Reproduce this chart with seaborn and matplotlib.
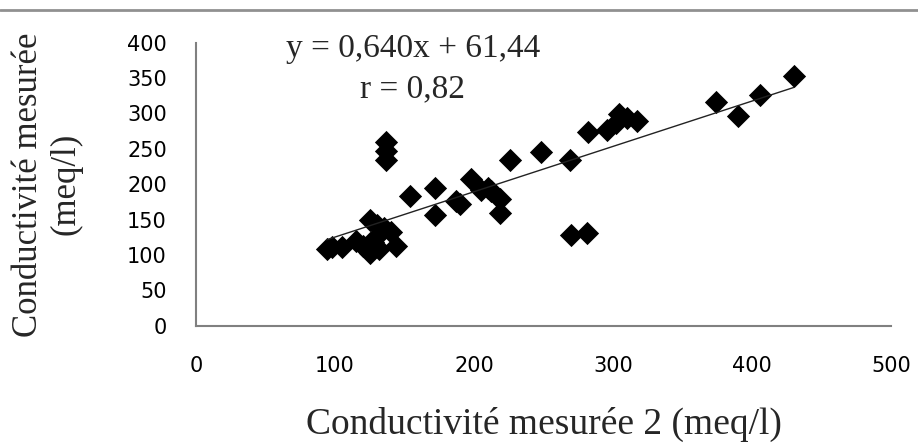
import numpy as np
import pandas as pd
import seaborn as sns
import matplotlib.pyplot as plt
from matplotlib.lines import Line2D

# Data.
cond_2 = [94, 98, 105, 115, 120, 125, 132, 144,
          125, 130, 135, 140, 129, 127,
          137, 137, 137,
          154, 172, 172, 187, 190, 198, 205, 210, 212, 219, 219, 226, 248,
          269, 270, 281, 282, 296, 302, 304, 310, 317,
          374, 390, 406, 430]
cond_1 = [109, 112, 111, 120, 113, 103, 109, 113,
          150, 142, 138, 132, 124, 118,
          234, 247, 260,
          184, 195, 156, 177, 172, 207, 192, 195, 190, 179, 159, 234, 245,
          234, 129, 131, 274, 277, 287, 299, 293, 289,
          316, 296, 326, 353]
slope, intercept = 0.640, 61.44
x_ticks = [0, 100, 200, 300, 400, 500]
y_ticks = [0, 50, 100, 150, 200, 250, 300, 350, 400]

df = pd.DataFrame({'x': cond_2, 'y': cond_1})

sns.set_style('white')
plt.rcParams['font.family'] = ['DejaVu Sans']

fig = plt.figure(figsize=(9.18, 4.44), dpi=100)
ax = fig.add_axes([0.2135, 0.266, 0.757, 0.638])

sns.scatterplot(data=df, x='x', y='y', marker='D', s=140, color='black',
                edgecolor='black', linewidth=0, ax=ax, zorder=3)

# Trend line from the stated equation.
xl = np.array([min(cond_2), max(cond_2)])
ax.plot(xl, slope * xl + intercept, color='#222222', lw=1.0, zorder=4)

ax.set_xlim(0, 500)
ax.set_ylim(0, 400)
ax.set_xticks(x_ticks)
ax.set_yticks(y_ticks)
ax.tick_params(axis='both', labelsize=15, colors='#808080', length=7, width=1.2,
               direction='out', labelcolor='black')
ax.tick_params(axis='x', pad=15)
ax.tick_params(axis='y', pad=14)
for side in ['top', 'right']:
    ax.spines[side].set_visible(False)
for side in ['left', 'bottom']:
    ax.spines[side].set_color('#808080')
    ax.spines[side].set_linewidth(1.5)

ax.set_xlabel('Conductivité mesurée 2 (meq/l)', family='Liberation Serif',
              fontsize=27, labelpad=22)
ax.set_ylabel('Conductivité mesurée\n(meq/l)', family='Liberation Serif',
              fontsize=25, labelpad=32, linespacing=1.2)

ax.text(0.312, 0.98, 'y = 0,640x + 61,44', transform=ax.transAxes,
        family='Liberation Serif', fontsize=24, ha='center', va='center')
ax.text(0.312, 0.835, 'r = 0,82', transform=ax.transAxes,
        family='Liberation Serif', fontsize=24, ha='center', va='center')

fig.add_artist(Line2D([0, 1], [0.977, 0.977], transform=fig.transFigure,
                      color='#909090', lw=2))

plt.savefig('out.png', dpi=100)
plt.close()
